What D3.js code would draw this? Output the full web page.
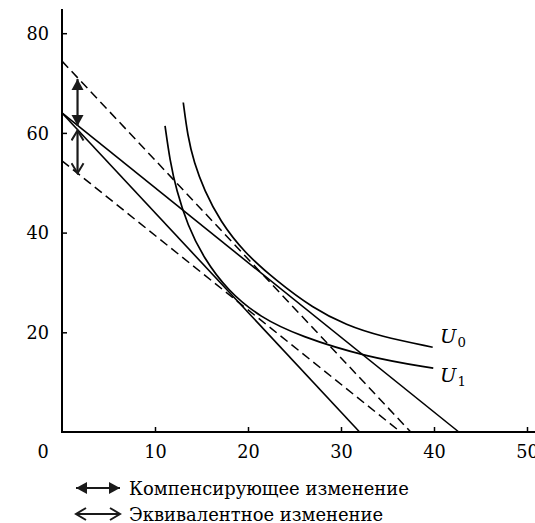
<!DOCTYPE html>
<html><head><meta charset="utf-8">
<script src="https://cdn.jsdelivr.net/npm/d3@7"></script>
<style>
body{margin:0;background:#fff}
svg{display:block}
</style>
</head><body>
<svg id="c" width="535" height="523"></svg>
<script>
// ---- data ----
const xTicks = [10, 20, 30, 40, 50];
const yTicks = [20, 40, 60, 80];
const budgetNew   = [[0, 64], [32, 0]];      // solid, steeper
const budgetOld   = [[0, 64], [42.67, 0]];   // solid, flatter
const compLine    = [[0, 74.4], [37.5, 0]];  // dashed, parallel to new budget
const equivLine   = [[0, 54.4], [36.4, 0]];  // dashed, parallel to old budget
const u0 = [[13.04,66.1],[13.5,59.5],[14.2,54.0],[15.3,48.5],[17.0,42.3],[19.6,36.0],[23.0,30.4],[27.0,24.8],[30.6,21.4],[34.2,19.2],[39.86,17.0]];
const u1 = [[11.08,61.4],[11.6,54.5],[12.3,48.5],[13.5,41.5],[15.2,35.0],[17.85,28.3],[21.3,23.0],[25.6,19.2],[32.8,15.0],[39.92,12.8]];
const cvArrow = [[1.67, 70.8], [1.67, 61.4]];
const evArrow = [[1.67, 60.5], [1.67, 51.9]];
const legendLabels = ["Компенсирующее изменение", "Эквивалентное изменение"];
const curveNames = ["U", "U"];
const curveSubs = ["0", "1"];

// ---- drawing ----
const FONT = "'DejaVu Serif', 'Liberation Serif', serif";
const svg = d3.select("#c");
const x = d3.scaleLinear().domain([0, 50]).range([62, 527]);
const y = d3.scaleLinear().domain([0, 80]).range([432, 33.2]);

// measure font so sizes match the reference widths
const probe = svg.append("text").style("font-family", FONT).style("font-size", "20px").text("80");
const tickFs = 20 * 22.5 / probe.node().getComputedTextLength();
probe.remove();

const defs = svg.append("defs");
defs.append("marker").attr("id","fill").attr("markerUnits","userSpaceOnUse")
  .attr("viewBox","-12 -7 13 14").attr("refX",0).attr("refY",0)
  .attr("markerWidth",13).attr("markerHeight",14).attr("orient","auto-start-reverse")
  .append("path").attr("d","M0,0 L-11,-6 L-11,6 Z").attr("fill","#1a1a1a");
defs.append("marker").attr("id","open").attr("markerUnits","userSpaceOnUse")
  .attr("viewBox","-12 -7 14 14").attr("refX",0).attr("refY",0)
  .attr("markerWidth",14).attr("markerHeight",14).attr("orient","auto-start-reverse")
  .append("path").attr("d","M-10,-6 L0,0 L-10,6").attr("fill","none")
  .attr("stroke","#1a1a1a").attr("stroke-width",2);

// axes
const xAxis = d3.axisBottom(x).tickValues(xTicks).tickSizeInner(-5).tickSizeOuter(0).tickFormat(d3.format("d"));
const gx = svg.append("g").attr("transform", `translate(0,${y(0)})`).call(xAxis);
gx.select(".domain").remove();
gx.selectAll(".tick line").attr("stroke","#000").attr("stroke-width",1.5);
gx.selectAll(".tick text").attr("y", 26).attr("dy", null).attr("fill","#000")
  .style("font-family", FONT).style("font-size", tickFs + "px");

const yAxis = d3.axisLeft(y).tickValues(yTicks).tickSizeInner(-5).tickSizeOuter(0).tickFormat(d3.format("d"));
const gy = svg.append("g").attr("transform", `translate(${x(0)},0)`).call(yAxis);
gy.select(".domain").remove();
gy.selectAll(".tick line").attr("stroke","#000").attr("stroke-width",1.5);
gy.selectAll(".tick text").attr("x", -13).attr("dy", "0.36em").attr("fill","#000")
  .style("font-family", FONT).style("font-size", tickFs + "px");

// origin label
svg.append("text").attr("x", x(0) - 19).attr("y", y(0) + 26).attr("text-anchor","middle")
  .style("font-family", FONT).style("font-size", tickFs + "px").text("0");

// axis lines
svg.append("line").attr("x1", x(0)).attr("x2", x(0)).attr("y1", 9).attr("y2", y(0) + 1)
  .attr("stroke","#000").attr("stroke-width",2);
svg.append("line").attr("x1", x(0) - 1).attr("x2", 540).attr("y1", y(0)).attr("y2", y(0))
  .attr("stroke","#000").attr("stroke-width",2);

const line = d3.line().x(d => x(d[0])).y(d => y(d[1]));
const smooth = d3.line().x(d => x(d[0])).y(d => y(d[1])).curve(d3.curveBasis);

[budgetNew, budgetOld].forEach(d => svg.append("path").attr("d", line(d))
  .attr("fill","none").attr("stroke","#000").attr("stroke-width",1.6));
[compLine, equivLine].forEach(d => svg.append("path").attr("d", line(d))
  .attr("fill","none").attr("stroke","#000").attr("stroke-width",1.5).attr("stroke-dasharray","9,5"));
[u0, u1].forEach(d => svg.append("path").attr("d", smooth(d))
  .attr("fill","none").attr("stroke","#000").attr("stroke-width",1.7));

// arrows in the plot
svg.append("path").attr("d", line(cvArrow)).attr("stroke","#1a1a1a").attr("stroke-width",2.2)
  .attr("marker-start","url(#fill)").attr("marker-end","url(#fill)");
svg.append("path").attr("d", line(evArrow)).attr("stroke","#1a1a1a").attr("stroke-width",2.2)
  .attr("marker-start","url(#open)").attr("marker-end","url(#open)");

// curve labels
const labPos = [[440, 342.5], [440, 382]];
curveNames.forEach((n, i) => {
  const t = svg.append("text").attr("x", labPos[i][0]).attr("y", labPos[i][1])
    .style("font-family", FONT).style("font-size", (tickFs * 1.1) + "px");
  t.append("tspan").style("font-style","italic").text(n);
  t.append("tspan").style("font-size", (tickFs * 0.75) + "px").attr("dy", 4).attr("dx", 1).text(curveSubs[i]);
});

// legend
const legY = [488, 514];
const legTexts = legendLabels.map((lab, i) => {
  svg.append("line").attr("x1", 76).attr("x2", 120).attr("y1", legY[i]).attr("y2", legY[i])
    .attr("stroke","#1a1a1a").attr("stroke-width",2.2)
    .attr("marker-start", i === 0 ? "url(#fill)" : "url(#open)")
    .attr("marker-end", i === 0 ? "url(#fill)" : "url(#open)");
  return svg.append("text").attr("x", 129).attr("y", legY[i] + 6.5)
    .style("font-family", FONT).style("font-size", "20px").text(lab);
});
const legFs = 20 * 280 / legTexts[0].node().getComputedTextLength();
legTexts.forEach(t => t.style("font-size", legFs + "px"));
</script>
</body></html>
